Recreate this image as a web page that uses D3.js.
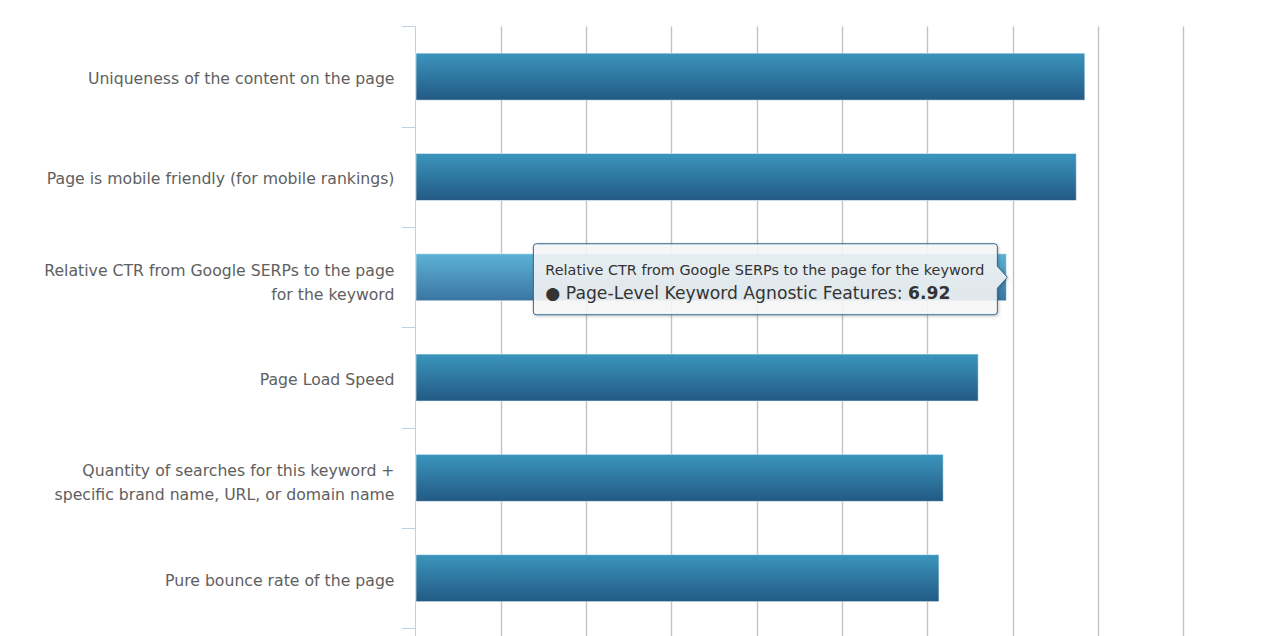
<!DOCTYPE html>
<html>
<head>
<meta charset="utf-8">
<script src="https://cdn.jsdelivr.net/npm/d3@7/dist/d3.min.js"></script>
<style>
  html, body { margin: 0; padding: 0; background: #fff; }
  svg { display: block; font-family: "DejaVu Sans", sans-serif; }
</style>
</head>
<body>
<svg id="chart" width="1278" height="636"></svg>
<script>
// ---- data ----
const categories = [
  "Uniqueness of the content on the page",
  "Page is mobile friendly (for mobile rankings)",
  "Relative CTR from Google SERPs to the page for the keyword",
  "Page Load Speed",
  "Quantity of searches for this keyword + specific brand name, URL, or domain name",
  "Pure bounce rate of the page"
];
const values = [7.84, 7.74, 6.92, 6.59, 6.18, 6.13];
const seriesName = "Page-Level Keyword Agnostic Features";
const xTicks = [0, 1, 2, 3, 4, 5, 6, 7, 8, 9];
const hoverIndex = 2;

// ---- layout ----
const W = 1278, H = 636;
const plot = { left: 415.5, right: 1183.3, top: 26.5, bottom: 628.3 };

const svg = d3.select("#chart");

const x = d3.scaleLinear().domain([0, 9]).range([plot.left, plot.right]);
const y = d3.scaleBand().domain(categories)
  .range([plot.top, plot.bottom]).paddingInner(0.531).paddingOuter(0.2655);
const step = y.step();

// gradients
const defs = svg.append("defs");
function grad(id, c1, c2) {
  const g = defs.append("linearGradient").attr("id", id)
    .attr("x1", 0).attr("y1", 0).attr("x2", 0).attr("y2", 1);
  g.append("stop").attr("offset", "0%").attr("stop-color", c1);
  g.append("stop").attr("offset", "100%").attr("stop-color", c2);
}
grad("barGrad", "#3b95bd", "#225a84");
grad("barGradHover", "#5db2d7", "#3a75a0");
const shadow = defs.append("filter").attr("id", "tipShadow")
  .attr("x", "-10%").attr("y", "-20%").attr("width", "120%").attr("height", "150%");
shadow.append("feDropShadow").attr("dx", 1).attr("dy", 1).attr("stdDeviation", 1.5)
  .attr("flood-color", "#000").attr("flood-opacity", 0.25);

// gridlines
svg.append("g").selectAll("line").data(xTicks.filter(t => t > 0)).join("line")
  .attr("x1", d => Math.round(x(d)) + 0.5).attr("x2", d => Math.round(x(d)) + 0.5)
  .attr("y1", plot.top).attr("y2", H + 5)
  .attr("stroke", "#c2c2c2").attr("stroke-width", 1.4);

// category axis line + ticks
const axisColor = "#c0d0e0";
svg.append("line")
  .attr("x1", plot.left).attr("x2", plot.left)
  .attr("y1", plot.top).attr("y2", H + 5)
  .attr("stroke", axisColor).attr("stroke-width", 1);
const boundaries = categories.map(c => y(c) - step * y.paddingInner() / 2);
boundaries.push(y(categories[categories.length - 1]) + y.bandwidth() + step * y.paddingInner() / 2);
svg.append("g").selectAll("line").data(boundaries).join("line")
  .attr("x1", plot.left - 13.5).attr("x2", plot.left)
  .attr("y1", d => Math.round(d) + 0.5).attr("y2", d => Math.round(d) + 0.5)
  .attr("stroke", axisColor).attr("stroke-width", 1);

// category labels with wrapping
const labelG = svg.append("g").attr("font-size", "15.7px").attr("fill", "#606060")
  .attr("text-anchor", "end");
const maxLabelW = 368;
categories.forEach(c => {
  const cy = y(c) + y.bandwidth() / 2;
  const t = labelG.append("text").attr("x", plot.left - 21);
  const words = c.split(" ");
  const lines = [];
  let cur = [];
  const probe = labelG.append("text");
  words.forEach(w => {
    const test = cur.concat([w]).join(" ");
    probe.text(test);
    if (probe.node().getComputedTextLength() > maxLabelW && cur.length) {
      lines.push(cur.join(" "));
      cur = [w];
    } else cur.push(w);
  });
  lines.push(cur.join(" "));
  probe.remove();
  const base = cy + 7.5 - (lines.length - 1) * 9;
  lines.forEach((ln, i) => {
    t.append("tspan").attr("x", plot.left - 21).attr("y", base + i * 24).text(ln);
  });
});

// bars
svg.append("g").selectAll("rect").data(categories).join("rect")
  .attr("x", plot.left + 0.5)
  .attr("y", d => y(d))
  .attr("width", (d, i) => x(values[i]) - plot.left)
  .attr("height", y.bandwidth())
  .attr("fill", (d, i) => i === hoverIndex ? "url(#barGradHover)" : "url(#barGrad)")
  .attr("stroke", "#ffffff").attr("stroke-opacity", 0.55).attr("stroke-width", 1);

// tooltip
const hc = categories[hoverIndex];
const tipX = x(values[hoverIndex]);
const tipY = y(hc) + y.bandwidth() / 2;
const tip = svg.append("g");
const tipBox = tip.append("path");
const headerT = tip.append("text").attr("font-size", "14.4px").attr("fill", "#333").text(hc);
const bodyT = tip.append("text").attr("font-size", "17.2px").attr("fill", "#333");
bodyT.append("tspan").attr("fill", "#333").text("\u25CF ");
bodyT.append("tspan").text(seriesName + ": ");
bodyT.append("tspan").attr("font-weight", "bold").text(d3.format(".2f")(values[hoverIndex]));

const padL = 12, padR = 13;
const textW = Math.max(headerT.node().getComputedTextLength(), bodyT.node().getComputedTextLength());
const boxW = padL + textW + padR;
const boxH = 71;
const arrow = 8, ah = 11;
const bx1 = tipX - arrow - 0.5; // right edge of box
const bx0 = bx1 - boxW;
const by0 = tipY - 33.5, by1 = by0 + boxH;
const r = 3;
const p = d3.path();
p.moveTo(bx0 + r, by0);
p.lineTo(bx1 - r, by0);
p.quadraticCurveTo(bx1, by0, bx1, by0 + r);
p.lineTo(bx1, tipY - ah);
p.lineTo(tipX + 1.5, tipY);
p.lineTo(bx1, tipY + ah);
p.lineTo(bx1, by1 - r);
p.quadraticCurveTo(bx1, by1, bx1 - r, by1);
p.lineTo(bx0 + r, by1);
p.quadraticCurveTo(bx0, by1, bx0, by1 - r);
p.lineTo(bx0, by0 + r);
p.quadraticCurveTo(bx0, by0, bx0 + r, by0);
p.closePath();
tipBox.attr("d", p.toString())
  .attr("fill", "rgba(249,249,249,0.86)")
  .attr("stroke", "#2d6790").attr("stroke-width", 1)
  .attr("filter", "url(#tipShadow)");
headerT.attr("x", bx0 + padL).attr("y", by0 + 31.5);
bodyT.attr("x", bx0 + padL).attr("y", by0 + 55.5);
</script>
</body>
</html>
